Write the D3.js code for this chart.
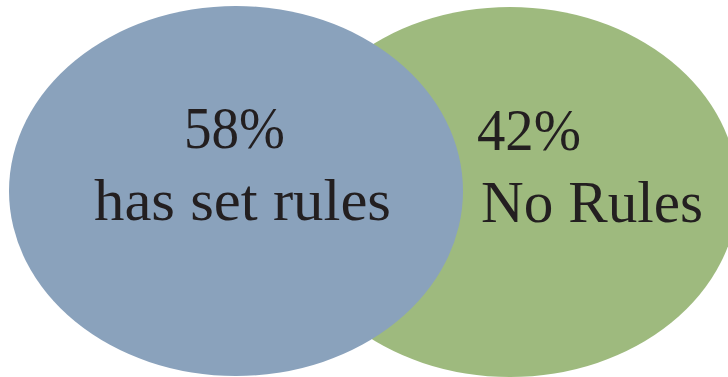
<!DOCTYPE html>
<html>
<head>
<meta charset="utf-8">
<script src="https://cdn.jsdelivr.net/npm/d3@7"></script>
<style>
html,body{margin:0;padding:0;background:#fff;}
svg{display:block;}
</style>
</head>
<body>
<script>
const categories = ["has set rules", "No Rules"];
const values = [58, 42];
const colors = ["#8AA2BC", "#9EBA7E"];

const W = 728, H = 377;
const svg = d3.select("body").append("svg").attr("width", W).attr("height", H);

// layout (positions, not data)
const shapes = [
  {cx: 236, cy: 191, rx: 227, ry: 185},
  {cx: 510, cy: 192, rx: 228, ry: 185}
];
const labelPos = [
  {x1: 184, y1: 148, w1: 101, x2: 94, y2: 220, w2: 297},
  {x1: 477, y1: 150, w1: 104, x2: 481, y2: 222, w2: 222}
];

const data = categories.map((c, i) => ({cat: c, val: values[i], color: colors[i], s: shapes[i], l: labelPos[i]}));

// draw green first, blue on top
svg.selectAll("ellipse").data(data.slice().reverse()).join("ellipse")
  .attr("cx", d => d.s.cx).attr("cy", d => d.s.cy)
  .attr("rx", d => d.s.rx).attr("ry", d => d.s.ry)
  .attr("fill", d => d.color);

const fmt = d3.format("d");
const g = svg.selectAll("g.lab").data(data).join("g").attr("class", "lab")
  .attr("font-family", "'Liberation Serif', 'DejaVu Serif', serif")
  .attr("font-size", 59).attr("fill", "#231F20");

g.append("text")
  .attr("x", d => d.l.x1).attr("y", d => d.l.y1)
  .attr("textLength", d => d.l.w1).attr("lengthAdjust", "spacingAndGlyphs")
  .text(d => fmt(d.val) + "%");
g.append("text")
  .attr("x", d => d.l.x2).attr("y", d => d.l.y2)
  .attr("textLength", d => d.l.w2).attr("lengthAdjust", "spacingAndGlyphs")
  .text(d => d.cat);
</script>
</body>
</html>
